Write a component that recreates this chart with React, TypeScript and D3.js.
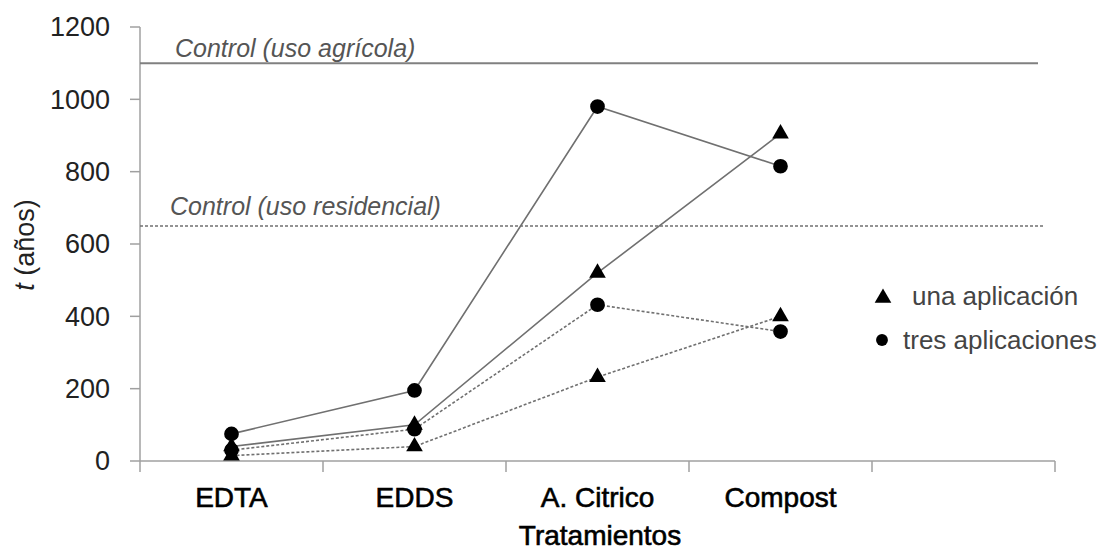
import React from 'react';
import * as d3 from 'd3';

const categories = ['EDTA', 'EDDS', 'A. Citrico', 'Compost'];
const xSlots = [...categories, ''];
const yTicks = [0, 200, 400, 600, 800, 1000, 1200];

// agrícola (solid) and residencial (dashed), one and three applications
const agriTres = [75, 195, 980, 815];
const agriUna = [40, 100, 520, 905];
const resTres = [30, 88, 432, 358];
const resUna = [15, 40, 232, 400];

const controlAgricola = 1100;
const controlResidencial = 650;

const W = 1110;
const H = 552;

const series = [
  { name: 'agri-una', values: agriUna, marker: 'triangle', dashed: false },
  { name: 'agri-tres', values: agriTres, marker: 'circle', dashed: false },
  { name: 'res-una', values: resUna, marker: 'triangle', dashed: true },
  { name: 'res-tres', values: resTres, marker: 'circle', dashed: true },
];

const font = '"Liberation Sans", Arial, sans-serif';

export default function App() {
  const x = d3.scaleBand<string>().domain(xSlots).range([140, 1055]).padding(0);
  const y = d3.scaleLinear().domain([0, 1200]).range([461, 27]);
  const cx = (c: string) => x(c)! + x.bandwidth() / 2;

  const line = d3
    .line<number>()
    .x((_, i) => cx(categories[i]))
    .y((d) => y(d));

  const tri = d3.symbol().type(d3.symbolTriangle).size(120)()!;
  const circ = d3.symbol().type(d3.symbolCircle).size(170)()!;

  return (
    <svg
      width={W}
      height={H}
      viewBox={`0 0 ${W} ${H}`}
      style={{ position: 'absolute', left: 0, top: 0, background: '#fff' }}
    >
      {/* y axis */}
      <line x1={140} x2={140} y1={y(1200)} y2={y(0)} stroke="#a0a0a0" strokeWidth={1.5} />
      {yTicks.map((t) => (
        <g key={t}>
          <line x1={130} x2={140} y1={y(t)} y2={y(t)} stroke="#a0a0a0" strokeWidth={1.5} />
          <text
            x={110}
            y={y(t)}
            dy="0.35em"
            textAnchor="end"
            fontFamily={font}
            fontSize={27}
            fill="#222"
          >
            {t}
          </text>
        </g>
      ))}

      {/* x axis */}
      <line x1={140} x2={1055} y1={y(0)} y2={y(0)} stroke="#a0a0a0" strokeWidth={1.5} />
      {[...xSlots.map((s) => x(s)!), 1055].map((p, i) => (
        <line key={i} x1={p} x2={p} y1={y(0)} y2={y(0) + 11} stroke="#a0a0a0" strokeWidth={1.5} />
      ))}
      {categories.map((c) => (
        <text
          key={c}
          x={cx(c)}
          y={507}
          textAnchor="middle"
          fontFamily={font}
          fontSize={28}
          fill="#000"
          stroke="#000"
          strokeWidth={0.6}
        >
          {c}
        </text>
      ))}
      <text
        x={600}
        y={545}
        textAnchor="middle"
        fontFamily={font}
        fontSize={28}
        fill="#000"
        stroke="#000"
        strokeWidth={0.6}
      >
        Tratamientos
      </text>

      {/* y title */}
      <text
        transform={`translate(34, 245) rotate(-90)`}
        textAnchor="middle"
        fontFamily={font}
        fontSize={27}
        fill="#222"
      >
        <tspan fontStyle="italic">t</tspan> (años)
      </text>

      {/* control lines */}
      <line x1={140} x2={1038} y1={y(controlAgricola)} y2={y(controlAgricola)} stroke="#808080" strokeWidth={2} />
      <text x={175} y={57} fontFamily={font} fontSize={25} fontStyle="italic" fill="#555">
        Control (uso agrícola)
      </text>
      <line
        x1={140}
        x2={1045}
        y1={y(controlResidencial)}
        y2={y(controlResidencial)}
        stroke="#707070"
        strokeWidth={1.5}
        strokeDasharray="3 2"
      />
      <text x={170} y={215} fontFamily={font} fontSize={25} fontStyle="italic" fill="#555">
        Control (uso residencial)
      </text>

      {/* series */}
      {series.map((s) => (
        <path
          key={s.name}
          d={line(s.values)!}
          fill="none"
          stroke="#707070"
          strokeWidth={1.6}
          strokeDasharray={s.dashed ? '3 2' : undefined}
        />
      ))}
      {series.map((s) =>
        s.values.map((v, i) => (
          <path
            key={`${s.name}-${i}`}
            d={s.marker === 'circle' ? circ : tri}
            transform={`translate(${cx(categories[i])}, ${y(v)})`}
            fill="#000"
          />
        )),
      )}

      {/* legend */}
      <path d={tri} transform="translate(883, 298)" fill="#000" />
      <text x={912} y={305} fontFamily={font} fontSize={26} fill="#444">
        una aplicación
      </text>
      <path d={d3.symbol().type(d3.symbolCircle).size(110)()!} transform="translate(882, 340)" fill="#000" />
      <text x={903} y={349} fontFamily={font} fontSize={26} fill="#444">
        tres aplicaciones
      </text>
    </svg>
  );
}
